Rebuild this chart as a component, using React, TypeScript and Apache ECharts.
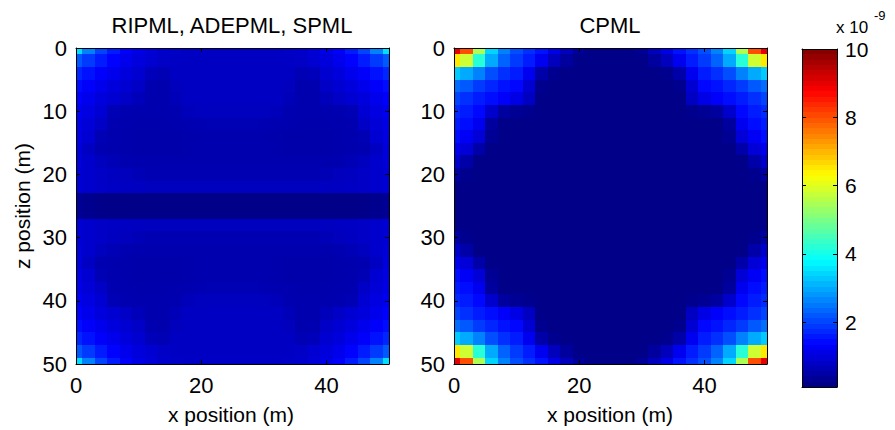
import React, { useEffect, useRef } from "react";
import * as echarts from "echarts";

const FONT = "Liberation Sans, Arial, Helvetica, sans-serif";

// Sample positions (m) along x and z; each cell is centred on a node.
const nodes = [0, 2, 4, 6, 8, 10, 12, 14, 16, 18, 20, 22, 24, 26, 28, 30, 32, 34, 36, 38, 40, 42, 44, 46, 48, 50];
const xTicks = [0, 20, 40];
const colorTicks = [2, 4, 6, 8, 10];
const colorMin = 0.1;
const colorMax = 10;

// Error field (x 1e-9), rows are z = 0, 2, ..., 50; columns are x = 0, 2, ..., 50.
const ripmlRows = [
  [3.5, 2.6, 2.0, 1.6, 1.3, 1.1, 0.95, 0.85, 0.8, 0.78, 0.78, 0.78, 0.78, 0.78, 0.78, 0.78, 0.78, 0.8, 0.85, 0.95, 1.1, 1.3, 1.6, 2.0, 2.6, 3.5],
  [2.2, 1.9, 1.6, 1.35, 1.15, 1.0, 0.9, 0.8, 0.78, 0.76, 0.76, 0.76, 0.76, 0.76, 0.76, 0.76, 0.76, 0.78, 0.8, 0.9, 1.0, 1.15, 1.35, 1.6, 1.9, 2.2],
  [1.7, 1.5, 1.3, 1.15, 1.0, 0.88, 0.68, 0.62, 0.75, 0.76, 0.76, 0.76, 0.76, 0.76, 0.76, 0.76, 0.76, 0.75, 0.62, 0.68, 0.88, 1.0, 1.15, 1.3, 1.5, 1.7],
  [1.45, 1.3, 1.15, 1.0, 0.9, 0.8, 0.58, 0.56, 0.7, 0.76, 0.76, 0.76, 0.76, 0.76, 0.76, 0.76, 0.76, 0.7, 0.56, 0.58, 0.8, 0.9, 1.0, 1.15, 1.3, 1.45],
  [1.3, 1.15, 1.0, 0.9, 0.8, 0.68, 0.56, 0.56, 0.66, 0.76, 0.76, 0.76, 0.76, 0.76, 0.76, 0.76, 0.76, 0.66, 0.56, 0.56, 0.68, 0.8, 0.9, 1.0, 1.15, 1.3],
  [1.2, 1.05, 0.9, 0.62, 0.58, 0.56, 0.55, 0.55, 0.58, 0.68, 0.72, 0.72, 0.72, 0.72, 0.72, 0.72, 0.68, 0.58, 0.55, 0.55, 0.56, 0.58, 0.62, 0.9, 1.05, 1.2],
  [1.1, 0.95, 0.8, 0.58, 0.55, 0.54, 0.54, 0.54, 0.55, 0.58, 0.6, 0.62, 0.62, 0.62, 0.62, 0.6, 0.58, 0.55, 0.54, 0.54, 0.54, 0.55, 0.58, 0.8, 0.95, 1.1],
  [1.05, 0.9, 0.62, 0.56, 0.54, 0.53, 0.53, 0.53, 0.53, 0.54, 0.55, 0.55, 0.55, 0.55, 0.55, 0.55, 0.54, 0.53, 0.53, 0.53, 0.53, 0.54, 0.56, 0.62, 0.9, 1.05],
  [1.0, 0.75, 0.58, 0.55, 0.54, 0.53, 0.53, 0.53, 0.53, 0.54, 0.55, 0.55, 0.55, 0.55, 0.55, 0.55, 0.54, 0.53, 0.53, 0.53, 0.53, 0.54, 0.55, 0.58, 0.75, 1.0],
  [0.95, 0.85, 0.72, 0.64, 0.58, 0.56, 0.55, 0.55, 0.55, 0.56, 0.56, 0.56, 0.56, 0.56, 0.56, 0.56, 0.56, 0.55, 0.55, 0.55, 0.56, 0.58, 0.64, 0.72, 0.85, 0.95],
  [0.92, 0.85, 0.8, 0.74, 0.7, 0.64, 0.6, 0.6, 0.6, 0.6, 0.6, 0.6, 0.6, 0.6, 0.6, 0.6, 0.6, 0.6, 0.6, 0.6, 0.64, 0.7, 0.74, 0.8, 0.85, 0.92],
  [0.9, 0.85, 0.8, 0.78, 0.76, 0.74, 0.72, 0.72, 0.72, 0.72, 0.72, 0.72, 0.72, 0.72, 0.72, 0.72, 0.72, 0.72, 0.72, 0.72, 0.74, 0.76, 0.78, 0.8, 0.85, 0.9],
  [0.3, 0.25, 0.22, 0.2, 0.2, 0.2, 0.2, 0.2, 0.2, 0.2, 0.2, 0.2, 0.2, 0.2, 0.2, 0.2, 0.2, 0.2, 0.2, 0.2, 0.2, 0.2, 0.2, 0.22, 0.25, 0.3],
  [0.3, 0.25, 0.22, 0.2, 0.2, 0.2, 0.2, 0.2, 0.2, 0.2, 0.2, 0.2, 0.2, 0.2, 0.2, 0.2, 0.2, 0.2, 0.2, 0.2, 0.2, 0.2, 0.2, 0.22, 0.25, 0.3],
  [0.9, 0.85, 0.8, 0.78, 0.76, 0.74, 0.72, 0.72, 0.72, 0.72, 0.72, 0.72, 0.72, 0.72, 0.72, 0.72, 0.72, 0.72, 0.72, 0.72, 0.74, 0.76, 0.78, 0.8, 0.85, 0.9],
  [0.92, 0.85, 0.8, 0.74, 0.7, 0.64, 0.6, 0.6, 0.6, 0.6, 0.6, 0.6, 0.6, 0.6, 0.6, 0.6, 0.6, 0.6, 0.6, 0.6, 0.64, 0.7, 0.74, 0.8, 0.85, 0.92],
  [0.95, 0.85, 0.72, 0.64, 0.58, 0.56, 0.55, 0.55, 0.55, 0.56, 0.56, 0.56, 0.56, 0.56, 0.56, 0.56, 0.56, 0.55, 0.55, 0.55, 0.56, 0.58, 0.64, 0.72, 0.85, 0.95],
  [1.0, 0.75, 0.58, 0.55, 0.54, 0.53, 0.53, 0.53, 0.53, 0.54, 0.55, 0.55, 0.55, 0.55, 0.55, 0.55, 0.54, 0.53, 0.53, 0.53, 0.53, 0.54, 0.55, 0.58, 0.75, 1.0],
  [1.05, 0.9, 0.62, 0.56, 0.54, 0.53, 0.53, 0.53, 0.53, 0.54, 0.55, 0.55, 0.55, 0.55, 0.55, 0.55, 0.54, 0.53, 0.53, 0.53, 0.53, 0.54, 0.56, 0.62, 0.9, 1.05],
  [1.1, 0.95, 0.8, 0.58, 0.55, 0.54, 0.54, 0.54, 0.55, 0.58, 0.6, 0.62, 0.62, 0.62, 0.62, 0.6, 0.58, 0.55, 0.54, 0.54, 0.54, 0.55, 0.58, 0.8, 0.95, 1.1],
  [1.2, 1.05, 0.9, 0.62, 0.58, 0.56, 0.55, 0.55, 0.58, 0.68, 0.72, 0.72, 0.72, 0.72, 0.72, 0.72, 0.68, 0.58, 0.55, 0.55, 0.56, 0.58, 0.62, 0.9, 1.05, 1.2],
  [1.3, 1.15, 1.0, 0.9, 0.8, 0.68, 0.56, 0.56, 0.66, 0.76, 0.76, 0.76, 0.76, 0.76, 0.76, 0.76, 0.76, 0.66, 0.56, 0.56, 0.68, 0.8, 0.9, 1.0, 1.15, 1.3],
  [1.45, 1.3, 1.15, 1.0, 0.9, 0.8, 0.58, 0.56, 0.7, 0.76, 0.76, 0.76, 0.76, 0.76, 0.76, 0.76, 0.76, 0.7, 0.56, 0.58, 0.8, 0.9, 1.0, 1.15, 1.3, 1.45],
  [1.7, 1.5, 1.3, 1.15, 1.0, 0.88, 0.68, 0.62, 0.75, 0.76, 0.76, 0.76, 0.76, 0.76, 0.76, 0.76, 0.76, 0.75, 0.62, 0.68, 0.88, 1.0, 1.15, 1.3, 1.5, 1.7],
  [2.2, 1.9, 1.6, 1.35, 1.15, 1.0, 0.9, 0.8, 0.78, 0.76, 0.76, 0.76, 0.76, 0.76, 0.76, 0.76, 0.76, 0.78, 0.8, 0.9, 1.0, 1.15, 1.35, 1.6, 1.9, 2.2],
  [3.5, 2.6, 2.0, 1.6, 1.3, 1.1, 0.95, 0.85, 0.8, 0.78, 0.78, 0.78, 0.78, 0.78, 0.78, 0.78, 0.78, 0.8, 0.85, 0.95, 1.1, 1.3, 1.6, 2.0, 2.6, 3.5],
];

const cpmlRows = [
  [9.0, 8.0, 5.5, 3.4, 2.6, 2.1, 1.8, 1.5, 1.1, 0.7, 0.35, 0.2, 0.2, 0.2, 0.2, 0.35, 0.7, 1.1, 1.5, 1.8, 2.1, 2.6, 3.4, 5.5, 8.0, 9.0],
  [6.5, 5.8, 4.2, 3.0, 2.3, 1.9, 1.6, 1.2, 0.7, 0.4, 0.2, 0.2, 0.2, 0.2, 0.2, 0.2, 0.4, 0.7, 1.2, 1.6, 1.9, 2.3, 3.0, 4.2, 5.8, 6.5],
  [3.3, 3.0, 2.6, 2.1, 1.8, 1.6, 1.2, 0.5, 0.25, 0.2, 0.2, 0.2, 0.2, 0.2, 0.2, 0.2, 0.2, 0.25, 0.5, 1.2, 1.6, 1.8, 2.1, 2.6, 3.0, 3.3],
  [2.4, 2.2, 1.9, 1.7, 1.5, 1.4, 0.9, 0.25, 0.2, 0.2, 0.2, 0.2, 0.2, 0.2, 0.2, 0.2, 0.2, 0.2, 0.25, 0.9, 1.4, 1.5, 1.7, 1.9, 2.2, 2.4],
  [2.0, 1.8, 1.6, 1.45, 1.3, 1.1, 0.75, 0.2, 0.2, 0.2, 0.2, 0.2, 0.2, 0.2, 0.2, 0.2, 0.2, 0.2, 0.2, 0.75, 1.1, 1.3, 1.45, 1.6, 1.8, 2.0],
  [1.75, 1.6, 1.4, 0.85, 0.4, 0.3, 0.25, 0.2, 0.2, 0.2, 0.2, 0.2, 0.2, 0.2, 0.2, 0.2, 0.2, 0.2, 0.2, 0.25, 0.3, 0.4, 0.85, 1.4, 1.6, 1.75],
  [1.6, 1.45, 1.2, 0.4, 0.2, 0.2, 0.2, 0.2, 0.2, 0.2, 0.2, 0.2, 0.2, 0.2, 0.2, 0.2, 0.2, 0.2, 0.2, 0.2, 0.2, 0.2, 0.4, 1.2, 1.45, 1.6],
  [1.45, 1.25, 0.95, 0.3, 0.2, 0.2, 0.2, 0.2, 0.2, 0.2, 0.2, 0.2, 0.2, 0.2, 0.2, 0.2, 0.2, 0.2, 0.2, 0.2, 0.2, 0.2, 0.3, 0.95, 1.25, 1.45],
  [1.15, 0.95, 0.5, 0.2, 0.2, 0.2, 0.2, 0.2, 0.2, 0.2, 0.2, 0.2, 0.2, 0.2, 0.2, 0.2, 0.2, 0.2, 0.2, 0.2, 0.2, 0.2, 0.2, 0.5, 0.95, 1.15],
  [0.85, 0.5, 0.2, 0.2, 0.2, 0.2, 0.2, 0.2, 0.2, 0.2, 0.2, 0.2, 0.2, 0.2, 0.2, 0.2, 0.2, 0.2, 0.2, 0.2, 0.2, 0.2, 0.2, 0.2, 0.5, 0.85],
  [0.45, 0.25, 0.2, 0.2, 0.2, 0.2, 0.2, 0.2, 0.2, 0.2, 0.2, 0.2, 0.2, 0.2, 0.2, 0.2, 0.2, 0.2, 0.2, 0.2, 0.2, 0.2, 0.2, 0.2, 0.25, 0.45],
  [0.2, 0.2, 0.2, 0.2, 0.2, 0.2, 0.2, 0.2, 0.2, 0.2, 0.2, 0.2, 0.2, 0.2, 0.2, 0.2, 0.2, 0.2, 0.2, 0.2, 0.2, 0.2, 0.2, 0.2, 0.2, 0.2],
  [0.2, 0.2, 0.2, 0.2, 0.2, 0.2, 0.2, 0.2, 0.2, 0.2, 0.2, 0.2, 0.2, 0.2, 0.2, 0.2, 0.2, 0.2, 0.2, 0.2, 0.2, 0.2, 0.2, 0.2, 0.2, 0.2],
  [0.2, 0.2, 0.2, 0.2, 0.2, 0.2, 0.2, 0.2, 0.2, 0.2, 0.2, 0.2, 0.2, 0.2, 0.2, 0.2, 0.2, 0.2, 0.2, 0.2, 0.2, 0.2, 0.2, 0.2, 0.2, 0.2],
  [0.2, 0.2, 0.2, 0.2, 0.2, 0.2, 0.2, 0.2, 0.2, 0.2, 0.2, 0.2, 0.2, 0.2, 0.2, 0.2, 0.2, 0.2, 0.2, 0.2, 0.2, 0.2, 0.2, 0.2, 0.2, 0.2],
  [0.45, 0.25, 0.2, 0.2, 0.2, 0.2, 0.2, 0.2, 0.2, 0.2, 0.2, 0.2, 0.2, 0.2, 0.2, 0.2, 0.2, 0.2, 0.2, 0.2, 0.2, 0.2, 0.2, 0.2, 0.25, 0.45],
  [0.85, 0.5, 0.2, 0.2, 0.2, 0.2, 0.2, 0.2, 0.2, 0.2, 0.2, 0.2, 0.2, 0.2, 0.2, 0.2, 0.2, 0.2, 0.2, 0.2, 0.2, 0.2, 0.2, 0.2, 0.5, 0.85],
  [1.15, 0.95, 0.5, 0.2, 0.2, 0.2, 0.2, 0.2, 0.2, 0.2, 0.2, 0.2, 0.2, 0.2, 0.2, 0.2, 0.2, 0.2, 0.2, 0.2, 0.2, 0.2, 0.2, 0.5, 0.95, 1.15],
  [1.45, 1.25, 0.95, 0.3, 0.2, 0.2, 0.2, 0.2, 0.2, 0.2, 0.2, 0.2, 0.2, 0.2, 0.2, 0.2, 0.2, 0.2, 0.2, 0.2, 0.2, 0.2, 0.3, 0.95, 1.25, 1.45],
  [1.6, 1.45, 1.2, 0.4, 0.2, 0.2, 0.2, 0.2, 0.2, 0.2, 0.2, 0.2, 0.2, 0.2, 0.2, 0.2, 0.2, 0.2, 0.2, 0.2, 0.2, 0.2, 0.4, 1.2, 1.45, 1.6],
  [1.75, 1.6, 1.4, 0.85, 0.4, 0.3, 0.25, 0.2, 0.2, 0.2, 0.2, 0.2, 0.2, 0.2, 0.2, 0.2, 0.2, 0.2, 0.2, 0.25, 0.3, 0.4, 0.85, 1.4, 1.6, 1.75],
  [2.0, 1.8, 1.6, 1.45, 1.3, 1.1, 0.75, 0.2, 0.2, 0.2, 0.2, 0.2, 0.2, 0.2, 0.2, 0.2, 0.2, 0.2, 0.2, 0.75, 1.1, 1.3, 1.45, 1.6, 1.8, 2.0],
  [2.4, 2.2, 1.9, 1.7, 1.5, 1.4, 0.9, 0.25, 0.2, 0.2, 0.2, 0.2, 0.2, 0.2, 0.2, 0.2, 0.2, 0.2, 0.25, 0.9, 1.4, 1.5, 1.7, 1.9, 2.2, 2.4],
  [3.3, 3.0, 2.6, 2.1, 1.8, 1.6, 1.2, 0.5, 0.25, 0.2, 0.2, 0.2, 0.2, 0.2, 0.2, 0.2, 0.2, 0.25, 0.5, 1.2, 1.6, 1.8, 2.1, 2.6, 3.0, 3.3],
  [6.5, 5.8, 4.2, 3.0, 2.3, 1.9, 1.6, 1.2, 0.7, 0.4, 0.2, 0.2, 0.2, 0.2, 0.2, 0.2, 0.4, 0.7, 1.2, 1.6, 1.9, 2.3, 3.0, 4.2, 5.8, 6.5],
  [9.0, 8.0, 5.5, 3.4, 2.6, 2.1, 1.8, 1.5, 1.1, 0.7, 0.35, 0.2, 0.2, 0.2, 0.2, 0.35, 0.7, 1.1, 1.5, 1.8, 2.1, 2.6, 3.4, 5.5, 8.0, 9.0],
];

// MATLAB-style jet colour map stops
const jetColors = ["#00007F", "#0000FF", "#007FFF", "#00FFFF", "#7FFF7F", "#FFFF00", "#FF7F00", "#FF0000", "#7F0000"];
const COLORBAR_LEVELS = 64;

const X_MAX = 50;
const HALF_STEP = 1;

function toCells(rows: number[][]) {
  const out: number[][] = [];
  rows.forEach((row, j) => row.forEach((v, i) => out.push([nodes[i], nodes[j], v])));
  return out;
}

// Rect snapped to whole pixels so that neighbouring cells share their edges exactly.
function snappedRect(a: number[], b: number[], fill: string) {
  const x0 = Math.round(Math.min(a[0], b[0]));
  const x1 = Math.round(Math.max(a[0], b[0]));
  const y0 = Math.round(Math.min(a[1], b[1]));
  const y1 = Math.round(Math.max(a[1], b[1]));
  return {
    type: "rect",
    shape: { x: x0, y: y0, width: x1 - x0, height: y1 - y0 },
    style: { fill },
  };
}

function cellItem(_params: any, api: any) {
  const x = api.value(0);
  const z = api.value(1);
  const a = api.coord([Math.max(0, x - HALF_STEP), Math.max(0, z - HALF_STEP)]);
  const b = api.coord([Math.min(X_MAX, x + HALF_STEP), Math.min(X_MAX, z + HALF_STEP)]);
  return snappedRect(a, b, api.visual("color"));
}

function bandItem(_params: any, api: any) {
  const a = api.coord([0, api.value(0)]);
  const b = api.coord([1, api.value(1)]);
  return snappedRect(a, b, api.visual("color"));
}

const black = "#000";
const tickFont = { fontFamily: FONT, fontSize: 22, color: black };

function plotXAxes(gridIndex: number) {
  return [
    {
      gridIndex, type: "value", min: 0, max: X_MAX, position: "bottom", z: 5,
      axisLine: { show: true, onZero: false, lineStyle: { color: black, width: 1 } },
      axisTick: { show: true, inside: true, length: 4, customValues: xTicks, lineStyle: { color: black } },
      axisLabel: { show: true, customValues: xTicks, margin: 10, ...tickFont },
      splitLine: { show: false },
    },
    {
      gridIndex, type: "value", min: 0, max: X_MAX, position: "top", z: 5,
      axisLine: { show: true, onZero: false, lineStyle: { color: black, width: 1 } },
      axisTick: { show: true, inside: true, length: 4, customValues: xTicks, lineStyle: { color: black } },
      axisLabel: { show: false },
      splitLine: { show: false },
    },
  ];
}

function plotYAxes(gridIndex: number) {
  return [
    {
      gridIndex, type: "value", min: 0, max: X_MAX, interval: 10, inverse: true, position: "left", z: 5,
      axisLine: { show: true, onZero: false, lineStyle: { color: black, width: 1 } },
      axisTick: { show: true, inside: true, length: 4, lineStyle: { color: black } },
      axisLabel: { show: true, margin: 9, ...tickFont },
      splitLine: { show: false },
    },
    {
      gridIndex, type: "value", min: 0, max: X_MAX, interval: 10, inverse: true, position: "right", z: 5,
      axisLine: { show: true, onZero: false, lineStyle: { color: black, width: 1 } },
      axisTick: { show: true, inside: true, length: 4, lineStyle: { color: black } },
      axisLabel: { show: false },
      splitLine: { show: false },
    },
  ];
}

export default function App() {
  const ref = useRef<HTMLDivElement>(null);

  useEffect(() => {
    document.body.style.margin = "0";
    if (!ref.current) return;
    const chart = echarts.init(ref.current, undefined, { renderer: "svg" });

    // Colour-bar bands spanning the colour scale
    const bands: number[][] = [];
    for (let k = 0; k < COLORBAR_LEVELS; k++) {
      const lo = colorMin + ((colorMax - colorMin) * k) / COLORBAR_LEVELS;
      const hi = colorMin + ((colorMax - colorMin) * (k + 1)) / COLORBAR_LEVELS;
      bands.push([lo, hi, (lo + hi) / 2]);
    }

    const barAxisLine = { show: true, onZero: false, lineStyle: { color: black, width: 1 } };

    chart.setOption({
      animation: false,
      backgroundColor: "#fff",
      grid: [
        { left: 76, top: 48, width: 313, height: 316 },
        { left: 454, top: 48, width: 313, height: 316 },
        { left: 802, top: 49, width: 35, height: 338 },
      ],
      xAxis: [
        ...plotXAxes(0),
        ...plotXAxes(1),
        { gridIndex: 2, type: "value", min: 0, max: 1, position: "bottom", z: 5, axisLine: barAxisLine, axisTick: { show: false }, axisLabel: { show: false }, splitLine: { show: false } },
        { gridIndex: 2, type: "value", min: 0, max: 1, position: "top", z: 5, axisLine: barAxisLine, axisTick: { show: false }, axisLabel: { show: false }, splitLine: { show: false } },
      ],
      yAxis: [
        ...plotYAxes(0),
        ...plotYAxes(1),
        {
          gridIndex: 2, type: "value", min: colorMin, max: colorMax, position: "right", z: 5,
          axisLine: barAxisLine,
          axisTick: { show: true, inside: true, length: 4, customValues: colorTicks, lineStyle: { color: black } },
          axisLabel: { show: true, customValues: colorTicks, margin: 8, ...tickFont, fontSize: 21 },
          splitLine: { show: false },
        },
        {
          gridIndex: 2, type: "value", min: colorMin, max: colorMax, position: "left", z: 5,
          axisLine: barAxisLine,
          axisTick: { show: true, inside: true, length: 4, customValues: colorTicks, lineStyle: { color: black } },
          axisLabel: { show: false },
          splitLine: { show: false },
        },
      ],
      visualMap: {
        type: "continuous",
        show: false,
        min: colorMin,
        max: colorMax,
        dimension: 2,
        seriesIndex: [0, 1, 2],
        inRange: { color: jetColors },
      },
      series: [
        { type: "custom", name: "RIPML, ADEPML, SPML", xAxisIndex: 0, yAxisIndex: 0, data: toCells(ripmlRows), renderItem: cellItem, encode: { x: 0, y: 1 }, silent: true },
        { type: "custom", name: "CPML", xAxisIndex: 2, yAxisIndex: 2, data: toCells(cpmlRows), renderItem: cellItem, encode: { x: 0, y: 1 }, silent: true },
        { type: "custom", name: "colorbar", xAxisIndex: 4, yAxisIndex: 4, data: bands, renderItem: bandItem, encode: { y: [0, 1] }, silent: true },
      ],
      graphic: [
        { type: "text", x: 232, y: 25, style: { text: "RIPML, ADEPML, SPML", fontFamily: FONT, fontSize: 22, fill: black, align: "center", verticalAlign: "middle" } },
        { type: "text", x: 610, y: 25, style: { text: "CPML", fontFamily: FONT, fontSize: 22, fill: black, align: "center", verticalAlign: "middle" } },
        { type: "text", x: 231, y: 414, style: { text: "x position (m)", fontFamily: FONT, fontSize: 21, fill: black, align: "center", verticalAlign: "middle" } },
        { type: "text", x: 610, y: 414, style: { text: "x position (m)", fontFamily: FONT, fontSize: 21, fill: black, align: "center", verticalAlign: "middle" } },
        { type: "text", x: 22, y: 206, rotation: Math.PI / 2, style: { text: "z position (m)", fontFamily: FONT, fontSize: 21, fill: black, align: "center", verticalAlign: "middle" } },
        { type: "text", x: 836, y: 27, style: { text: "x 10", fontFamily: FONT, fontSize: 17, fill: black, align: "left", verticalAlign: "middle" } },
        { type: "text", x: 874, y: 15, style: { text: "-9", fontFamily: FONT, fontSize: 13, fill: black, align: "left", verticalAlign: "middle" } },
      ],
    });

    return () => chart.dispose();
  }, []);

  return <div ref={ref} style={{ width: 895, height: 430 }} />;
}
